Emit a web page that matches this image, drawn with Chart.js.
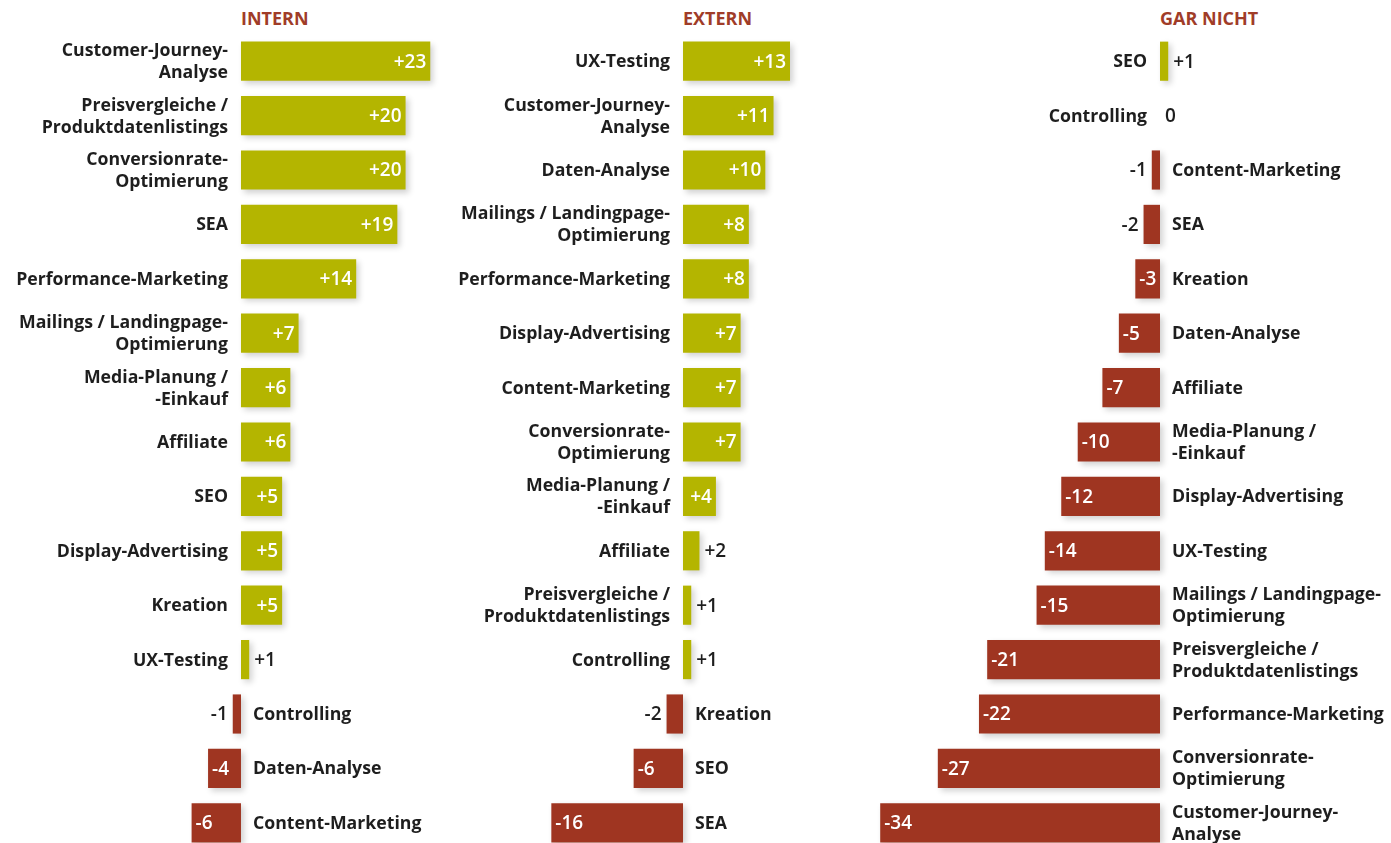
<!DOCTYPE html>
<html>
<head>
<meta charset="utf-8">
<script src="https://cdn.jsdelivr.net/npm/chart.js@4/dist/chart.umd.min.js"></script>
<style>
html,body{margin:0;padding:0;width:1391px;height:843px;overflow:hidden;background:#fff;}
.wrap{position:absolute;top:34px;height:816px;}
.title{position:absolute;top:6px;font:700 18px "Open Sans",sans-serif;color:#a03c28;letter-spacing:0px;}
</style>
</head>
<body>
<div class="wrap" id="w1" style="left:0;width:445px;"><canvas id="c1"></canvas></div>
<div class="wrap" id="w2" style="left:445px;width:425px;"><canvas id="c2"></canvas></div>
<div class="wrap" id="w3" style="left:870px;width:521px;"><canvas id="c3"></canvas></div>
<div class="title" id="t1">INTERN</div>
<div class="title" id="t2">EXTERN</div>
<div class="title" id="t3">GAR NICHT</div>
<script>
// ---- Data ----
const titles = ["INTERN", "EXTERN", "GAR NICHT"];

const internLabels = [
  ["Customer-Journey-", "Analyse"],
  ["Preisvergleiche /", "Produktdatenlistings"],
  ["Conversionrate-", "Optimierung"],
  "SEA",
  "Performance-Marketing",
  ["Mailings / Landingpage-", "Optimierung"],
  ["Media-Planung /", "-Einkauf"],
  "Affiliate",
  "SEO",
  "Display-Advertising",
  "Kreation",
  "UX-Testing",
  "Controlling",
  "Daten-Analyse",
  "Content-Marketing"
];
const internValues = [23, 20, 20, 19, 14, 7, 6, 6, 5, 5, 5, 1, -1, -4, -6];

const externLabels = [
  "UX-Testing",
  ["Customer-Journey-", "Analyse"],
  "Daten-Analyse",
  ["Mailings / Landingpage-", "Optimierung"],
  "Performance-Marketing",
  "Display-Advertising",
  "Content-Marketing",
  ["Conversionrate-", "Optimierung"],
  ["Media-Planung /", "-Einkauf"],
  "Affiliate",
  ["Preisvergleiche /", "Produktdatenlistings"],
  "Controlling",
  "Kreation",
  "SEO",
  "SEA"
];
const externValues = [13, 11, 10, 8, 8, 7, 7, 7, 4, 2, 1, 1, -2, -6, -16];

const garNichtLabels = [
  "SEO",
  "Controlling",
  "Content-Marketing",
  "SEA",
  "Kreation",
  "Daten-Analyse",
  "Affiliate",
  ["Media-Planung /", "-Einkauf"],
  "Display-Advertising",
  "UX-Testing",
  ["Mailings / Landingpage-", "Optimierung"],
  ["Preisvergleiche /", "Produktdatenlistings"],
  "Performance-Marketing",
  ["Conversionrate-", "Optimierung"],
  ["Customer-Journey-", "Analyse"]
];
const garNichtValues = [1, 0, -1, -2, -3, -5, -7, -10, -12, -14, -15, -21, -22, -27, -34];

// ---- Styling ----
const GREEN = "#b4b500";
const RED = "#9f3521";
const TEXT = "#1e1e1e";
const LABEL_FONT = '700 17.7px "Open Sans", sans-serif';
const VALUE_FONT = '600 19px "Open Sans", sans-serif';
const LINE_H = 22;

const shadowPlugin = {
  id: "barShadow",
  beforeDatasetsDraw(chart) {
    const ctx = chart.ctx;
    ctx.save();
    ctx.shadowColor = "rgba(0,0,0,0.18)";
    ctx.shadowBlur = 6;
    ctx.shadowOffsetX = 3;
    ctx.shadowOffsetY = 3;
  },
  afterDatasetsDraw(chart) {
    chart.ctx.restore();
  }
};

const labelPlugin = {
  id: "rowLabels",
  afterDraw(chart) {
    const ctx = chart.ctx;
    const meta = chart.getDatasetMeta(0);
    const zero = chart.scales.x.getPixelForValue(0);
    const values = chart.data.datasets[0].data;
    ctx.save();
    ctx.textBaseline = "middle";
    meta.data.forEach((bar, i) => {
      const v = values[i];
      const lab = chart.data.labels[i];
      const lines = Array.isArray(lab) ? lab : [lab];
      const y = bar.y;
      // category label
      ctx.font = LABEL_FONT;
      ctx.fillStyle = TEXT;
      let lx;
      if (v >= 0) { ctx.textAlign = "right"; lx = zero - 13; }
      else { ctx.textAlign = "left"; lx = zero + 12; }
      lines.forEach((l, k) => {
        ctx.fillText(l, lx, y + (k - (lines.length - 1) / 2) * LINE_H + 1);
      });
      // value label
      const txt = v > 0 ? "+" + v : String(v);
      ctx.font = VALUE_FONT;
      if (Math.abs(v) >= 3) {
        ctx.fillStyle = "#ffffff";
        if (v > 0) { ctx.textAlign = "right"; ctx.fillText(txt, bar.x - 4, y + 1); }
        else { ctx.textAlign = "left"; ctx.fillText(txt, bar.x + 4, y + 1); }
      } else {
        ctx.fillStyle = TEXT;
        if (v > 0) { ctx.textAlign = "left"; ctx.fillText(txt, bar.x + 5, y + 1); }
        else if (v === 0) { ctx.textAlign = "left"; ctx.fillText(txt, zero + 5, y + 1); }
        else { ctx.textAlign = "right"; ctx.fillText(txt, bar.x - 5, y + 1); }
      }
    });
    ctx.restore();
  }
};

function makeChart(canvasId, labels, values, xmin, xmax) {
  return new Chart(document.getElementById(canvasId), {
    type: "bar",
    data: {
      labels: labels,
      datasets: [{
        data: values,
        backgroundColor: values.map(v => v >= 0 ? GREEN : RED),
        borderWidth: 0,
        barPercentage: 0.72,
        categoryPercentage: 1
      }]
    },
    options: {
      indexAxis: "y",
      responsive: true,
      maintainAspectRatio: false,
      animation: false,
      layout: { padding: 0 },
      plugins: { legend: { display: false }, tooltip: { enabled: false }, title: { display: false } },
      scales: {
        x: { display: false, min: xmin, max: xmax },
        y: { display: false, offset: true }
      }
    },
    plugins: [shadowPlugin, labelPlugin]
  });
}

const ch1 = makeChart("c1", internLabels, internValues, -29.28, 24.79);
const ch2 = makeChart("c2", externLabels, externValues, -28.92, 22.72);
const ch3 = makeChart("c3", garNichtLabels, garNichtValues, -35.24, 28.07);

[[ch1, "t1", 0], [ch2, "t2", 445], [ch3, "t3", 870]].forEach(([ch, id, off], i) => {
  const el = document.getElementById(id);
  el.textContent = titles[i];
  el.style.left = (off + ch.scales.x.getPixelForValue(0)) + "px";
});
</script>
</body>
</html>
